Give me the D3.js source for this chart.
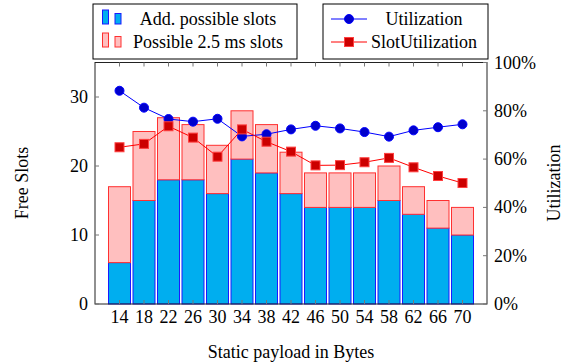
<!DOCTYPE html>
<html>
<head>
<meta charset="utf-8">
<script src="https://cdn.jsdelivr.net/npm/d3@7"></script>
<style>
  body { margin: 0; background: #fff; }
</style>
</head>
<body>
<svg id="chart" width="570" height="364" font-family="'Liberation Serif', 'Times New Roman', Times, 'DejaVu Serif', serif" font-size="18"></svg>
<script>
// payload sizes on the x axis
var payloads = [14, 18, 22, 26, 30, 34, 38, 42, 46, 50, 54, 58, 62, 66, 70];
// stacked bars (free slots)
var addSlots   = [6, 15, 18, 18, 16, 21, 19, 16, 14, 14, 14, 15, 13, 11, 10];
var extraSlots = [11, 10, 9, 8, 7, 7, 7, 6, 5, 5, 5, 5, 4, 4, 4];
// lines on the right axis, in percent
var utilization = [88.3, 81.3, 76.6, 75.5, 76.7, 69.4, 70.3, 72.3, 73.8, 72.7, 71.2, 69.3, 71.9, 73.2, 74.4];
var slotUtil    = [64.9, 66.3, 73.6, 68.9, 61.0, 72.3, 67.2, 63.1, 57.4, 57.5, 58.7, 60.5, 56.6, 53.0, 50.1];
var slotTicks = [0, 10, 20, 30];
var pctTicks = [0, 20, 40, 60, 80, 100];

var svg = d3.select('#chart');
var margin = {left: 95, right: 487, top: 62.5, bottom: 304};

var x = d3.scalePoint().domain(payloads).range([margin.left, margin.right]).padding(1);
var y = d3.scaleLinear().domain([0, 35]).range([margin.bottom, margin.top]);
var y2 = d3.scaleLinear().domain([0, 100]).range([margin.bottom, margin.top]);
var barW = 22;

var rows = payloads.map(function(p, i){
  return {p: p, a: addSlots[i], e: extraSlots[i], u: utilization[i], s: slotUtil[i]};
});

// bars
var bars = svg.append('g');
bars.selectAll('.blue').data(rows).enter().append('rect')
  .attr('x', function(d){ return x(d.p) - barW/2; })
  .attr('width', barW)
  .attr('y', function(d){ return y(d.a); })
  .attr('height', function(d){ return y(0) - y(d.a); })
  .style('fill', '#00aeef').style('stroke', '#1a1aff').style('stroke-width', 1);
bars.selectAll('.pink').data(rows).enter().append('rect')
  .attr('x', function(d){ return x(d.p) - barW/2; })
  .attr('width', barW)
  .attr('y', function(d){ return y(d.a + d.e); })
  .attr('height', function(d){ return y(d.a) - y(d.a + d.e); })
  .style('fill', '#ffbfbf').style('stroke', '#ff3030').style('stroke-width', 1);

// frame and ticks
var axes = svg.append('g');
axes.append('rect')
  .attr('x', margin.left).attr('y', margin.top)
  .attr('width', margin.right - margin.left).attr('height', margin.bottom - margin.top)
  .style('fill', 'none').style('stroke', '#222').style('stroke-width', 1);

axes.selectAll('.xt').data(payloads).enter().append('line')
  .attr('x1', function(d){ return x(d); }).attr('x2', function(d){ return x(d); })
  .attr('y1', margin.top).attr('y2', margin.top + 4)
  .style('stroke', '#777');
axes.selectAll('.xb').data(payloads).enter().append('line')
  .attr('x1', function(d){ return x(d); }).attr('x2', function(d){ return x(d); })
  .attr('y1', margin.bottom).attr('y2', margin.bottom - 4)
  .style('stroke', '#777');
axes.selectAll('.xl').data(payloads).enter().append('text')
  .attr('x', function(d){ return x(d); }).attr('y', 323)
  .attr('text-anchor', 'middle').text(function(d){ return d; });

axes.selectAll('.yt').data(slotTicks).enter().append('line')
  .attr('x1', margin.left).attr('x2', margin.left + 4)
  .attr('y1', function(d){ return y(d); }).attr('y2', function(d){ return y(d); })
  .style('stroke', '#777');
axes.selectAll('.yl').data(slotTicks).enter().append('text')
  .attr('x', 88).attr('y', function(d){ return y(d) + 6; })
  .attr('text-anchor', 'end').text(function(d){ return d; });

axes.selectAll('.y2t').data(pctTicks).enter().append('line')
  .attr('x1', margin.right).attr('x2', margin.right - 4)
  .attr('y1', function(d){ return y2(d); }).attr('y2', function(d){ return y2(d); })
  .style('stroke', '#777');
axes.selectAll('.y2l').data(pctTicks).enter().append('text')
  .attr('x', 494).attr('y', function(d){ return y2(d) + 6; })
  .attr('text-anchor', 'start').text(function(d){ return d + '%'; });

// axis titles
svg.append('text').attr('transform', 'translate(28,183) rotate(-90)')
  .attr('text-anchor', 'middle').text('Free Slots');
svg.append('text').attr('transform', 'translate(560,183) rotate(-90)')
  .attr('text-anchor', 'middle').text('Utilization');
svg.append('text').attr('x', 291).attr('y', 358)
  .attr('text-anchor', 'middle').text('Static payload in Bytes');

// lines
var lineU = d3.line().x(function(d){ return x(d.p); }).y(function(d){ return y2(d.u); });
var lineS = d3.line().x(function(d){ return x(d.p); }).y(function(d){ return y2(d.s); });
svg.append('path').datum(rows).attr('d', lineU)
  .style('fill', 'none').style('stroke', '#0000ff').style('stroke-width', 1);
svg.selectAll('.dotU').data(rows).enter().append('circle')
  .attr('cx', function(d){ return x(d.p); }).attr('cy', function(d){ return y2(d.u); })
  .attr('r', 4.5).style('fill', '#0000cc').style('stroke', '#0000ff');
svg.append('path').datum(rows).attr('d', lineS)
  .style('fill', 'none').style('stroke', '#ff0000').style('stroke-width', 1);
svg.selectAll('.sqS').data(rows).enter().append('rect')
  .attr('x', function(d){ return x(d.p) - 4.5; }).attr('y', function(d){ return y2(d.s) - 4.5; })
  .attr('width', 9).attr('height', 9)
  .style('fill', '#cc0000').style('stroke', '#ff4040');

// legends
var leg1 = svg.append('g');
leg1.append('rect').attr('x', 93).attr('y', 4).attr('width', 204).attr('height', 55)
  .style('fill', '#fff').style('stroke', '#000');
var barItems = [
  {label: 'Add. possible slots', fill: '#00aeef', stroke: '#1a1aff'},
  {label: 'Possible 2.5 ms slots', fill: '#ffbfbf', stroke: '#ff3030'}
];
barItems.forEach(function(it, i){
  var cy = 19 + i*23;
  leg1.append('rect').attr('x', 102.5).attr('y', cy - 9).attr('width', 6).attr('height', 14)
    .style('fill', it.fill).style('stroke', it.stroke);
  leg1.append('rect').attr('x', 115).attr('y', cy - 5.5).attr('width', 6).attr('height', 10.5)
    .style('fill', it.fill).style('stroke', it.stroke);
  leg1.append('text').attr('x', 208).attr('y', cy + 6).attr('text-anchor', 'middle').text(it.label);
});

var leg2 = svg.append('g');
leg2.append('rect').attr('x', 323).attr('y', 4).attr('width', 165).attr('height', 55)
  .style('fill', '#fff').style('stroke', '#000');
var lineItems = [
  {label: 'Utilization', color: '#0000ff', mark: 'circle'},
  {label: 'SlotUtilization', color: '#ff0000', mark: 'square'}
];
lineItems.forEach(function(it, i){
  var cy = 19 + i*23;
  leg2.append('line').attr('x1', 331).attr('x2', 367).attr('y1', cy).attr('y2', cy)
    .style('stroke', it.color);
  if (it.mark == 'circle')
    leg2.append('circle').attr('cx', 349).attr('cy', cy).attr('r', 4.5)
      .style('fill', '#0000cc').style('stroke', '#0000ff');
  else
    leg2.append('rect').attr('x', 344.5).attr('y', cy - 4.5).attr('width', 9).attr('height', 9)
      .style('fill', '#cc0000').style('stroke', '#ff4040');
  leg2.append('text').attr('x', 424).attr('y', cy + 6).attr('text-anchor', 'middle').text(it.label);
});
</script>
</body>
</html>
